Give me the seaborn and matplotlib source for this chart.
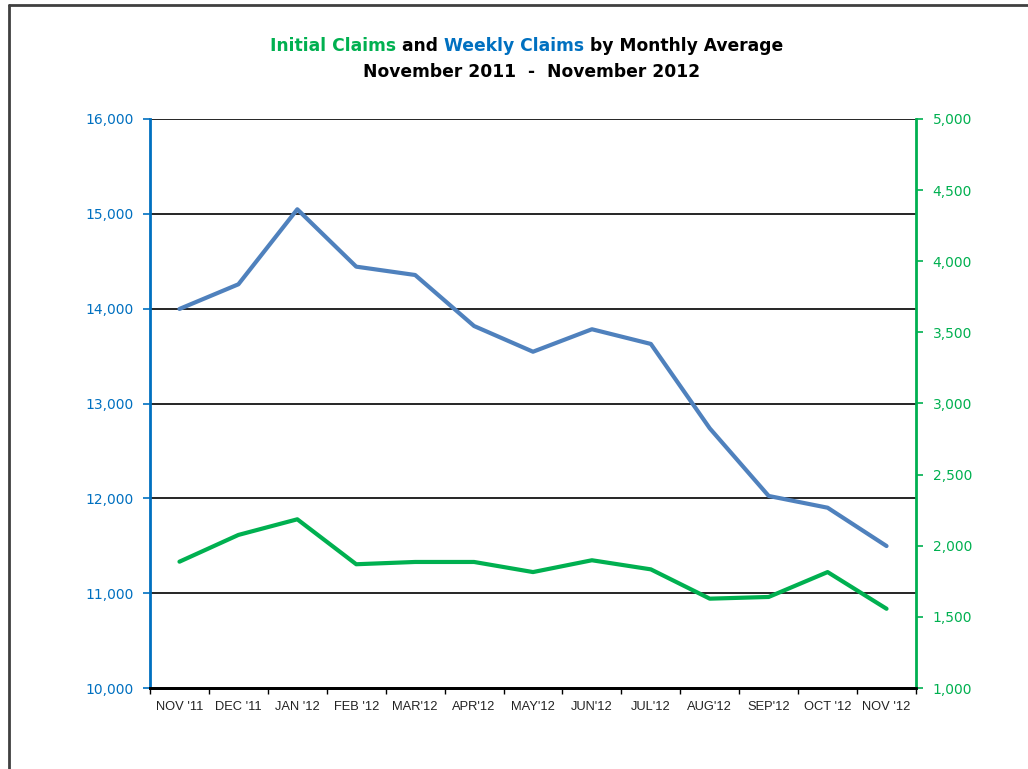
import matplotlib
matplotlib.use("Agg")
import matplotlib.pyplot as plt
import numpy as np
import seaborn as sns
from matplotlib.lines import Line2D
from matplotlib.ticker import FuncFormatter, MultipleLocator

# data
months = ["NOV '11", "DEC '11", "JAN '12", "FEB '12", "MAR'12", "APR'12", "MAY'12",
          "JUN'12", "JUL'12", "AUG'12", "SEP'12", "OCT '12", "NOV '12"]
weekly_claims = [13997, 14257, 15048, 14443, 14355, 13817, 13546,
                 13783, 13628, 12738, 12025, 11901, 11497]
initial_claims = [1888, 2076, 2186, 1870, 1886, 1886, 1815,
                  1898, 1834, 1628, 1640, 1815, 1557]

BLUE_LINE = "#4F81BD"
BLUE_TXT = "#0070C0"
GREEN = "#00B050"

sns.set_theme(style="white")
plt.rcParams["font.family"] = ["DejaVu Sans"]

fig = plt.figure(figsize=(10.28, 7.69), dpi=100)
ax = fig.add_axes([150 / 1028, 81 / 769, 766 / 1028, 569 / 769])
ax2 = ax.twinx()

sns.lineplot(x=months, y=weekly_claims, ax=ax, color=BLUE_LINE, linewidth=3, sort=False)
sns.lineplot(x=months, y=initial_claims, ax=ax2, color=GREEN, linewidth=3, sort=False)

ax.set_xlim(-0.5, len(months) - 0.5)
ax.set_ylim(10000, 16000)
ax2.set_ylim(1000, 5000)
ax.yaxis.set_major_locator(MultipleLocator(1000))
ax2.yaxis.set_major_locator(MultipleLocator(500))
fmt = FuncFormatter(lambda v, p: f"{int(v):,}")
ax.yaxis.set_major_formatter(fmt)
ax2.yaxis.set_major_formatter(fmt)
ax.set_ylabel("")
ax2.set_ylabel("")
ax.set_xlabel("")

# gridlines
ax.grid(False)
ax2.grid(False)
for v in range(11000, 16001, 1000):
    ax.axhline(v, color="black", linewidth=1.2, zorder=0)

# x ticks: labels at centres, tick marks at boundaries
ax.set_xticks(range(len(months)))
ax.set_xticklabels(months, fontsize=9.3, family="Liberation Sans", color="#222222")
ax.set_xticks(np.arange(-0.5, len(months)), minor=True)
ax.tick_params(axis="x", which="major", length=0, pad=9)
ax.tick_params(axis="x", which="minor", length=4, width=1, color="black", bottom=True)

ax.tick_params(axis="y", which="major", left=True, length=5, width=1.2, color=BLUE_TXT,
               labelcolor=BLUE_TXT, labelsize=10, pad=7)
ax2.tick_params(axis="y", which="major", right=True, length=5, width=1.2, color=GREEN,
                labelcolor=GREEN, labelsize=10, pad=7)

for a in (ax, ax2):
    a.spines["top"].set_visible(False)
ax.spines["left"].set_color(BLUE_TXT)
ax.spines["left"].set_linewidth(2)
ax.spines["right"].set_visible(False)
ax2.spines["left"].set_visible(False)
ax2.spines["right"].set_color(GREEN)
ax2.spines["right"].set_linewidth(2)
ax2.spines["bottom"].set_color("black")
ax2.spines["bottom"].set_linewidth(2)
ax.spines["bottom"].set_color("black")
ax.spines["bottom"].set_linewidth(2)

# title in coloured pieces
fig.canvas.draw()
renderer = fig.canvas.get_renderer()
pieces = [("Initial Claims", GREEN), (" and ", "black"), ("Weekly Claims", BLUE_TXT),
          (" by Monthly Average", "black")]
tkw = dict(fontsize=12.3, fontweight="bold", va="center", ha="left")
texts = [fig.text(0, 0, s, color=c, **tkw) for s, c in pieces]
widths = [t.get_window_extent(renderer).width for t in texts]
x = 527 - sum(widths) / 2
for t, w in zip(texts, widths):
    t.set_position((x / 1028, 1 - 46 / 769))
    x += w
fig.text(532 / 1028, 1 - 72 / 769, "November 2011  -  November 2012", color="black",
         fontsize=12.3, fontweight="bold", va="center", ha="center")

# outer frame (only left and top edges fall inside the image)
fig.add_artist(Line2D([9 / 1028, 9 / 1028], [0, 1 - 5 / 769], color="#404040", linewidth=2))
fig.add_artist(Line2D([9 / 1028, 1], [1 - 5 / 769, 1 - 5 / 769], color="#404040", linewidth=2))

fig.savefig("out.png", dpi=100)
